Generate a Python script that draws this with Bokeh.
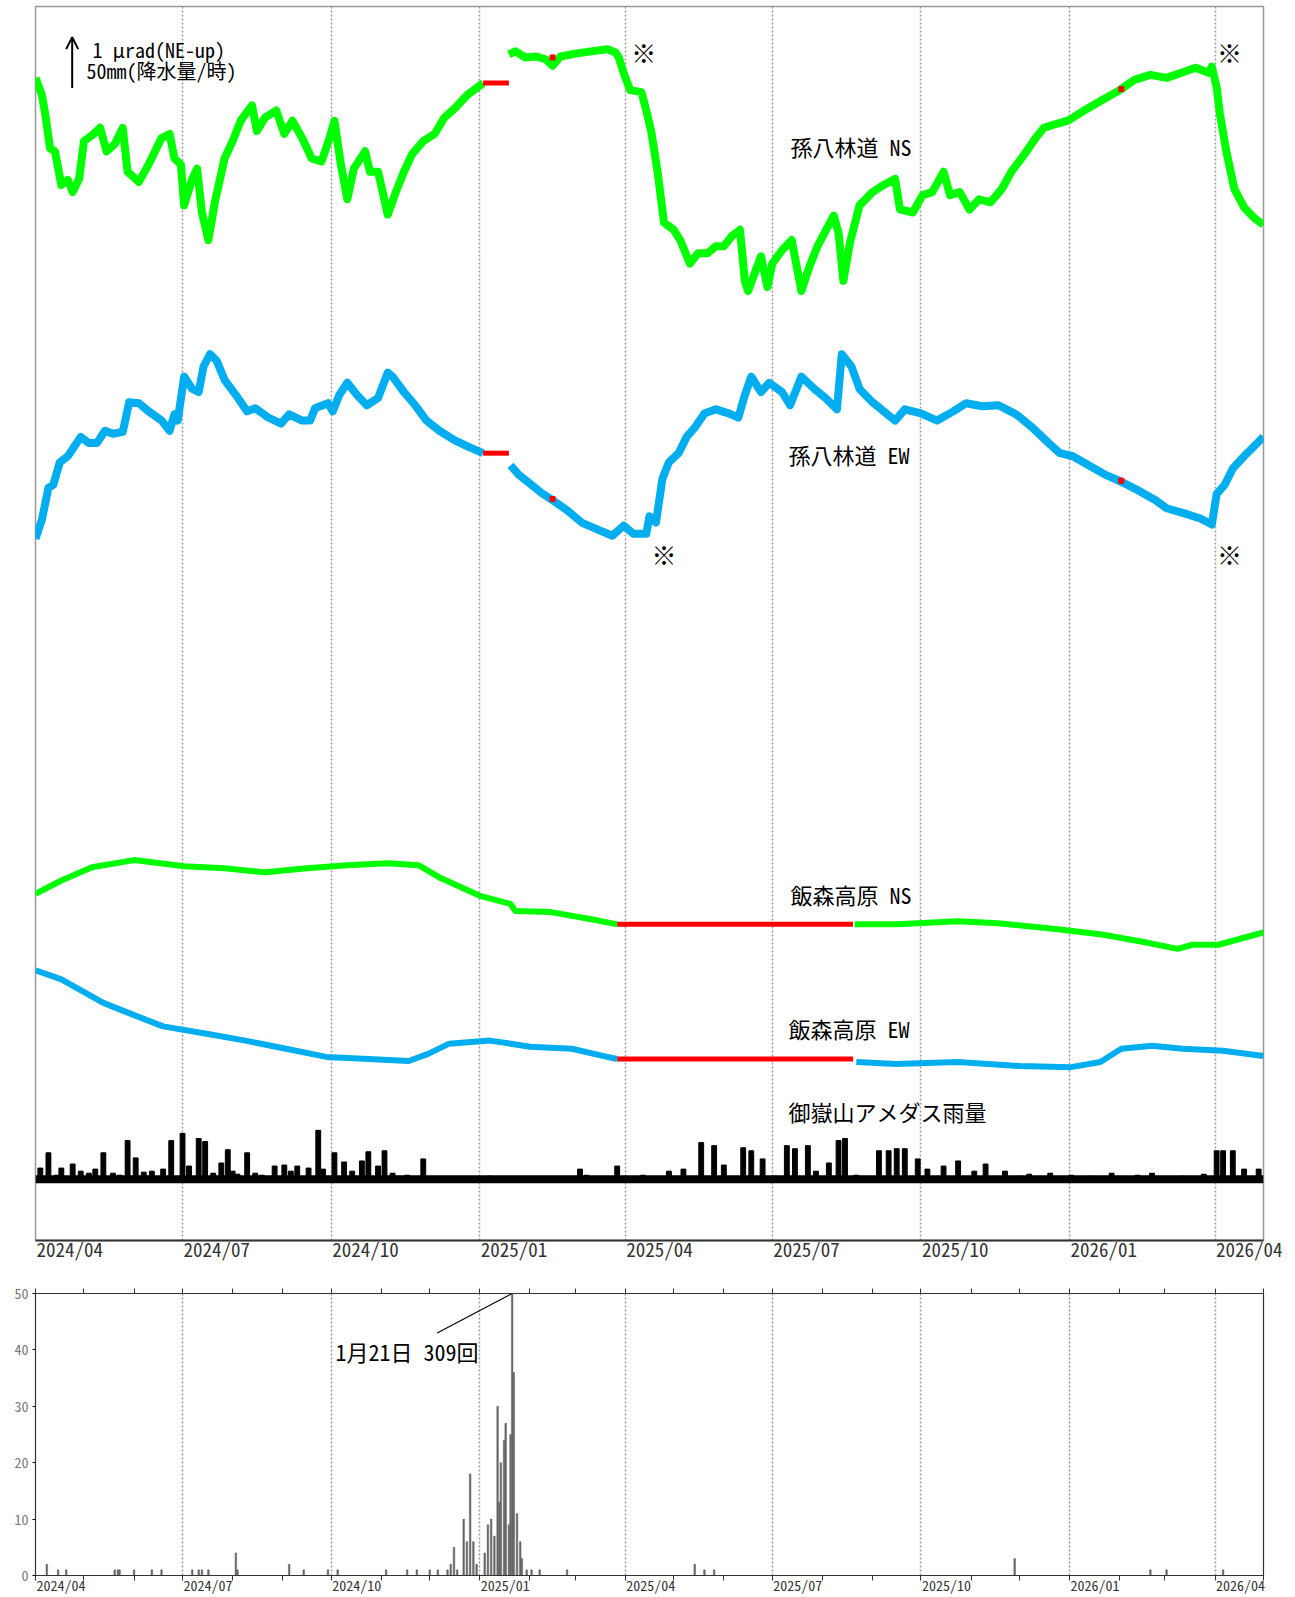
import numpy as np
import pandas as pd
from bokeh.plotting import figure
from bokeh.layouts import column
from bokeh.models import (Range1d, FixedTicker, Label, Arrow, OpenHead, LinearAxis,
                          CustomJSTickFormatter)
from bokeh.embed import file_html
from bokeh.resources import INLINE

START = pd.Timestamp("2024-04-01")
END = pd.Timestamp("2026-05-01")

# ---- tick labels (quarterly) ----
tick_labels = ["2024/04", "2024/07", "2024/10", "2025/01", "2025/04",
               "2025/07", "2025/10", "2026/01", "2026/04"]
tick_dates = ["2024-04-01", "2024-07-01", "2024-10-01", "2025-01-01", "2025-04-01",
              "2025-07-01", "2025-10-01", "2026-01-01", "2026-04-01"]

# ---- tilt data (days since 2024-04-01, micro-radian, arbitrary offsets) ----
ns_day = [0, 4, 6, 9, 12, 16, 20, 23, 27, 30,
          36, 40, 44, 49, 54, 57, 64, 70, 78, 83,
          86, 90, 92, 97, 100, 103, 107, 111, 117, 122,
          127, 134, 137, 142, 149, 154, 159, 165, 171, 177,
          182, 185, 189, 193, 197, 204, 207, 212, 218, 223,
          228, 233, 240, 247, 253, 260, 267, 273, 277,
          293, 297, 303, 310, 316, 320, 325, 335, 344, 354,
          359, 361, 364, 368, 375, 378, 381, 385, 389, 395,
          399, 405, 410, 416, 421, 426, 431, 436, 439, 441,
          445, 449, 453, 456, 462, 468, 474, 479, 484, 494,
          497, 500, 504, 510, 518, 525, 532, 535, 543, 549,
          555, 562, 566, 572, 578, 584, 591, 598, 604, 612,
          619, 624, 632, 639, 649, 660, 671, 680, 690, 700,
          711, 718, 726, 728, 731, 733, 737, 742, 748, 754, 760]
ns_val = [22.80, 22.46, 22.10, 21.42, 21.36, 20.70, 20.80, 20.56, 20.82, 21.56,
          21.70, 21.82, 21.36, 21.50, 21.82, 20.96, 20.76, 21.10, 21.62, 21.70,
          21.22, 21.10, 20.30, 20.82, 21.02, 20.16, 19.62, 20.36, 21.22, 21.56,
          21.96, 22.26, 21.76, 22.02, 22.16, 21.70, 21.96, 21.62, 21.22, 21.16,
          21.62, 21.96, 21.10, 20.42, 21.02, 21.36, 20.96, 20.96, 20.12, 20.56,
          20.96, 21.30, 21.56, 21.70, 22.02, 22.22, 22.46, 22.60, 22.70,
          23.26, 23.32, 23.20, 23.22, 23.16, 23.04, 23.22, 23.28, 23.32, 23.36,
          23.30, 23.20, 22.90, 22.56, 22.52, 22.16, 21.76, 20.96, 19.96, 19.82,
          19.62, 19.16, 19.36, 19.36, 19.50, 19.50, 19.70, 19.82, 18.82, 18.62,
          18.96, 19.30, 18.70, 19.16, 19.42, 19.62, 18.62, 19.10, 19.50, 20.10,
          19.76, 18.82, 19.56, 20.30, 20.56, 20.70, 20.82, 20.22, 20.16, 20.50,
          20.56, 20.96, 20.50, 20.56, 20.22, 20.42, 20.36, 20.62, 20.96, 21.30,
          21.62, 21.82, 21.90, 21.96, 22.16, 22.36, 22.56, 22.76, 22.86, 22.80,
          22.92, 23.00, 22.90, 23.02, 22.62, 22.10, 21.36, 20.62, 20.26, 20.06, 19.92]

ew_day = [0, 4, 8, 11, 15, 20, 23, 28, 33, 38,
          43, 48, 54, 58, 64, 70, 78, 83, 86, 88,
          92, 97, 101, 104, 108, 112, 117, 124, 131, 136,
          144, 152, 157, 165, 170, 173, 181, 184, 188, 193,
          199, 205, 212, 218, 221, 228, 235, 242, 250, 259,
          267, 277,
          294, 299, 307, 314, 319, 329, 338, 348, 357, 364,
          370, 378, 380, 384, 388, 392, 398, 403, 408, 414,
          421, 429, 435, 439, 443, 449, 454, 462, 467, 474,
          482, 489, 496, 499, 505, 510, 518, 525, 532, 538,
          548, 558, 568, 576, 586, 596, 607, 617, 627, 634,
          642, 652, 662, 672, 683, 693, 700, 711, 721, 728,
          731, 736, 741, 748, 760]
ew_val = [13.76, 14.14, 14.76, 14.82, 15.26, 15.38, 15.52, 15.76, 15.64, 15.64,
          15.88, 15.82, 15.86, 16.44, 16.42, 16.26, 16.08, 15.88, 16.20, 16.08,
          16.94, 16.70, 16.64, 17.14, 17.38, 17.26, 16.88, 16.58, 16.26, 16.32,
          16.14, 16.02, 16.20, 16.08, 16.08, 16.32, 16.42, 16.26, 16.58, 16.82,
          16.58, 16.38, 16.52, 17.02, 16.94, 16.64, 16.38, 16.08, 15.88, 15.70,
          15.58, 15.44,
          15.20, 15.02, 14.82, 14.64, 14.54, 14.32, 14.08, 13.94, 13.82, 14.02,
          13.86, 13.86, 14.20, 14.08, 14.94, 15.26, 15.44, 15.76, 15.94, 16.22,
          16.30, 16.22, 16.14, 16.58, 16.94, 16.64, 16.82, 16.64, 16.38, 16.94,
          16.70, 16.52, 16.30, 17.38, 17.14, 16.70, 16.44, 16.26, 16.08, 16.30,
          16.22, 16.08, 16.26, 16.42, 16.36, 16.38, 16.20, 15.94, 15.64, 15.44,
          15.38, 15.20, 15.02, 14.88, 14.70, 14.52, 14.36, 14.26, 14.16, 14.04,
          14.64, 14.82, 15.14, 15.38, 15.76]

ns2_day = [0, 16, 35, 61, 92, 117, 142, 168, 193, 218, 237, 250, 275, 294, 297, 319, 344, 360,
           507, 533, 571, 596, 634, 660, 685, 707, 716, 732, 760]
ns2_val = [6.80, 7.06, 7.32, 7.46, 7.34, 7.30, 7.22, 7.30, 7.36, 7.40, 7.36, 7.12, 6.76, 6.60,
           6.46, 6.44, 6.30, 6.20,
           6.20, 6.20, 6.26, 6.22, 6.10, 6.00, 5.86, 5.72, 5.80, 5.80, 6.04]

ew2_day = [0, 16, 42, 61, 79, 105, 130, 155, 180, 206, 231, 243, 256, 281, 294, 306, 332, 351, 360,
           508, 533, 571, 609, 641, 659, 672, 691, 710, 735, 760]
ew2_val = [5.30, 5.12, 4.66, 4.42, 4.20, 4.06, 3.92, 3.76, 3.60, 3.56, 3.52, 3.66, 3.86, 3.92,
           3.86, 3.80, 3.76, 3.62, 3.56,
           3.50, 3.46, 3.50, 3.42, 3.40, 3.50, 3.76, 3.82, 3.76, 3.72, 3.62]

# missing-data periods (drawn red)
gap_top = (277, 293)
gap_low = (360, 506)
red_mark_day = [320, 672]
red_mark_ns = [23.20, 22.58]
red_mark_ew = [14.54, 14.90]

# ---- hourly rainfall (mm) ----
rain_day = [3, 8, 13, 16, 23, 28, 33, 37, 42, 48, 52, 57, 62, 67, 72, 79, 84, 91, 95, 101, 105,
            110, 115, 119, 122, 125, 131, 136, 140, 148, 154, 158, 162, 169, 175, 178, 185, 191,
            196, 202, 206, 212, 216, 221, 225, 230, 240, 256, 281,
            319, 337, 341, 360, 376, 392, 401, 412, 420, 426, 438, 443, 450, 458, 465, 470, 478,
            483, 491, 497, 501, 508, 522, 528, 533, 538, 546, 552, 562, 571, 581, 588, 600, 609,
            615, 628, 641, 653, 666, 682, 691, 710, 723, 731, 735, 741, 748, 757]
rain_mm = [13, 28, 6, 13, 17, 10, 8, 12, 28, 8, 6, 40, 23, 9, 10, 12, 40, 47, 15, 42, 39,
           8, 18, 31, 10, 7, 28, 8, 6, 15, 16, 10, 15, 13, 50, 12, 28, 19,
           10, 20, 29, 15, 30, 8, 5, 6, 22, 4, 5,
           4, 12, 6, 15, 6, 10, 12, 38, 35, 16, 33, 30, 22, 5, 35, 32, 35,
           10, 18, 40, 42, 6, 30, 30, 32, 32, 22, 12, 15, 20, 10, 17, 10, 5,
           7, 8, 6, 5, 8, 6, 8, 5, 7, 30, 30, 30, 12, 12]

# ---- daily earthquake counts ----
eq_day = [7, 14, 19, 49, 51, 52, 61, 72, 78, 97, 101, 103, 107, 124, 125, 157, 166, 181, 187, 217,
          230, 236, 244, 249, 255, 257, 259, 261, 265, 267, 269, 271, 273, 278, 280, 282, 284, 286,
          287, 288, 290, 291, 293, 294, 295, 296, 298, 300, 301, 304, 307, 312, 329, 408, 414, 420,
          606, 690, 700, 735]
eq_cnt = [2, 1, 1, 1, 1, 1, 1, 1, 1, 1, 1, 1, 1, 4, 1, 2, 1, 1, 1, 1,
          1, 1, 1, 1, 1, 2, 5, 1, 10, 6, 18, 6, 2, 4, 9, 10, 7, 30,
          13, 20, 24, 27, 9, 25, 309, 36, 11, 6, 3, 1, 1, 1, 1, 2, 1, 1,
          3, 1, 1, 1]

RAIN_BASE = 1.16      # level of rainfall zero line (micro-radian units)
MM_PER_URAD = 50.0

FONT = "'Noto Sans Mono CJK JP', 'Noto Sans CJK JP'"
DAY_MS = 86400000.0

# layout (pixels)
W = 1290
TOP_H, TOP_L, TOP_R, TOP_T, TOP_B = 1266, 35, 27, 6, 26
BOT_H, BOT_L, BOT_R, BOT_T, BOT_B = 331, 33, 27, 27, 19
TOP_FS, BOT_FS = 19, 14


def d(days):
    return START + pd.to_timedelta(np.asarray(days, dtype=float), unit="D")


def ms(days):
    return (START + pd.Timedelta(days=float(days))).value / 1e6


def split_gap(days, vals, gap):
    xs, ys = [], []
    for i, (dd, vv) in enumerate(zip(days, vals)):
        if i > 0 and days[i - 1] <= gap[0] and dd >= gap[1]:
            xs.append(np.nan)
            ys.append(np.nan)
        xs.append(dd)
        ys.append(vv)
    return xs, ys


def gap_level(days, vals, gap):
    return [v for dd, v in zip(days, vals) if dd <= gap[0]][-1]


quarter_ms = [pd.Timestamp(t).value // 10**6 for t in tick_dates]
month_ms = [t.value // 10**6 for t in pd.date_range(START, END, freq="MS")]
span_ms = (END - START).value / 1e6


def shifted_ticks(frame_w, font_px):
    # left-align labels on the tick: shift label centre by half its width (+1px)
    half = 0.5 * len(tick_labels[0]) * 0.5 * font_px + 1
    return [int(t + half * span_ms / frame_w) for t in quarter_ms]


label_formatter = CustomJSTickFormatter(args=dict(labels=tick_labels),
                                        code="return labels[index] || '';")

GREEN = "#00FF00"
BLUE = "#00AEEF"
RED = "#FF0000"

# ================= top figure =================
p = figure(width=W, height=TOP_H, x_axis_type="datetime",
           x_range=Range1d(START, END), y_range=Range1d(0, 24.2),
           output_backend="svg", toolbar_location=None,
           min_border_left=TOP_L, min_border_right=TOP_R,
           min_border_top=TOP_T, min_border_bottom=TOP_B)
p.outline_line_color = "#999999"
p.outline_line_width = 1.5
p.yaxis.visible = False
p.ygrid.visible = False
p.xaxis.ticker = FixedTicker(ticks=shifted_ticks(W - TOP_L - TOP_R, TOP_FS))
p.xaxis.formatter = label_formatter
p.xaxis.major_label_text_font = FONT
p.xaxis.major_label_text_font_size = f"{TOP_FS}px"
p.xaxis.major_label_text_color = "#333333"
p.xaxis.major_label_standoff = -6
p.xaxis.major_tick_line_color = None
p.xaxis.major_tick_out = 0
p.xaxis.major_tick_in = 0
p.xaxis.minor_tick_line_color = None
p.xaxis.axis_line_color = "#333333"
p.xaxis.axis_line_width = 2
p.xgrid.ticker = FixedTicker(ticks=quarter_ms)
p.xgrid.grid_line_color = "#999999"
p.xgrid.grid_line_dash = "2 2"
p.xgrid.grid_line_width = 1.5

series = [(ns_day, ns_val, GREEN, gap_top, 8),
          (ew_day, ew_val, BLUE, gap_top, 8),
          (ns2_day, ns2_val, GREEN, gap_low, 6),
          (ew2_day, ew2_val, BLUE, gap_low, 6)]
for days, vals, col, gap, lw in series:
    xs, ys = split_gap(days, vals, gap)
    p.line(d(xs), ys, line_color=col, line_width=lw, line_join="round")
    lev = gap_level(days, vals, gap)
    p.segment(x0=d([gap[0]]), x1=d([gap[1]]), y0=[lev], y1=[lev],
              line_color=RED, line_width=5)

p.scatter(d(red_mark_day), red_mark_ns, marker="square", size=5, color=RED)
p.scatter(d(red_mark_day), red_mark_ew, marker="square", size=5, color=RED)

# rainfall
p.segment(x0=d([0]), x1=d([760]), y0=[RAIN_BASE + 0.04], y1=[RAIN_BASE + 0.04],
          line_color="black", line_width=8)
p.vbar(x=d(rain_day), width=3 * DAY_MS, bottom=RAIN_BASE,
       top=[RAIN_BASE + m / MM_PER_URAD for m in rain_mm],
       fill_color="black", line_color="black")

# scale arrow and texts
p.add_layout(Arrow(end=OpenHead(size=12, line_width=2, line_color="black"),
                   x_start=ms(22.7), y_start=22.6, x_end=ms(22.7), y_end=23.6,
                   line_width=2, line_color="black"))
texts = [
    ("1 μrad(NE-up)", 35.3, 23.36, 20, "left"),
    ("50mm(降水量/時)", 31.5, 22.94, 20, "left"),
    ("孫八林道 NS", 467.2, 21.46, 22, "left"),
    ("孫八林道 EW", 466.0, 15.42, 22, "left"),
    ("飯森高原 NS", 467.2, 6.80, 22, "left"),
    ("飯森高原 EW", 466.0, 4.16, 22, "left"),
    ("御嶽山アメダス雨量", 466.0, 2.54, 22, "left"),
    ("※", 376.4, 23.30, 25, "center"),
    ("※", 739.0, 23.30, 25, "center"),
    ("※", 389.0, 13.46, 25, "center"),
    ("※", 739.0, 13.46, 25, "center"),
]
for t, xd, yv, fs, al in texts:
    p.add_layout(Label(x=ms(xd), y=yv, text=t, text_align=al, text_baseline="middle",
                       text_font=FONT, text_font_size=f"{fs}px", text_color="black"))

# ================= bottom figure =================
q = figure(width=W, height=BOT_H, x_axis_type="datetime",
           x_range=Range1d(START, END), y_range=Range1d(0, 50),
           output_backend="svg", toolbar_location=None,
           min_border_left=BOT_L, min_border_right=BOT_R,
           min_border_top=BOT_T, min_border_bottom=BOT_B)
q.outline_line_color = "#333333"
q.outline_line_width = 1.2
q.ygrid.visible = False
q.xgrid.ticker = FixedTicker(ticks=quarter_ms)
q.xgrid.grid_line_color = "#999999"
q.xgrid.grid_line_dash = "2 2"
q.xgrid.grid_line_width = 1.5
q.xaxis.ticker = FixedTicker(ticks=shifted_ticks(W - BOT_L - BOT_R, BOT_FS),
                             minor_ticks=month_ms)
q.xaxis.formatter = label_formatter
q.xaxis.major_label_text_font = FONT
q.xaxis.major_label_text_font_size = f"{BOT_FS}px"
q.xaxis.major_label_text_color = "#333333"
q.xaxis.major_label_standoff = -6
q.xaxis.major_tick_line_color = None
q.xaxis.major_tick_out = 0
q.xaxis.major_tick_in = 0
q.xaxis.minor_tick_line_color = "#333333"
q.xaxis.minor_tick_out = 5
q.xaxis.minor_tick_in = 0
q.xaxis.axis_line_color = "#333333"
q.yaxis.ticker = FixedTicker(ticks=[0, 10, 20, 30, 40, 50])
q.yaxis.major_label_text_font_size = "14px"
q.yaxis.major_label_text_color = "#777777"
q.yaxis.major_label_text_font = FONT
q.yaxis.major_label_standoff = 4
q.yaxis.major_tick_out = 3
q.yaxis.major_tick_in = 0
q.yaxis.minor_tick_line_color = None
q.yaxis.axis_line_color = "#333333"
top_axis = LinearAxis(ticker=FixedTicker(ticks=[], minor_ticks=month_ms),
                      minor_tick_out=5, minor_tick_in=0, minor_tick_line_color="#333333",
                      major_tick_line_color=None, axis_line_color=None)
q.add_layout(top_axis, "above")

q.vbar(x=d(eq_day), width=1.0 * DAY_MS, bottom=0, top=eq_cnt,
       fill_color="#666666", line_color="#666666", line_width=0.5)

peak_i = int(np.argmax(eq_cnt))
q.segment(x0=d([248.6]), y0=[43.0], x1=d([eq_day[peak_i]]), y1=[50.0],
          line_color="black", line_width=1.2)
q.add_layout(Label(x=ms(185.6), y=39.8, text="1月21日 309回", text_align="left",
                   text_baseline="middle", text_font=FONT, text_font_size="22px",
                   text_color="black"))
q.add_layout(Label(x=ms(-9.6), y=52.2, text="回", text_align="center",
                   text_baseline="middle", text_font=FONT, text_font_size="10px",
                   text_color="#555555"))

layout = column(p, q, spacing=0)
open("out.html", "w").write(file_html(layout, INLINE))
